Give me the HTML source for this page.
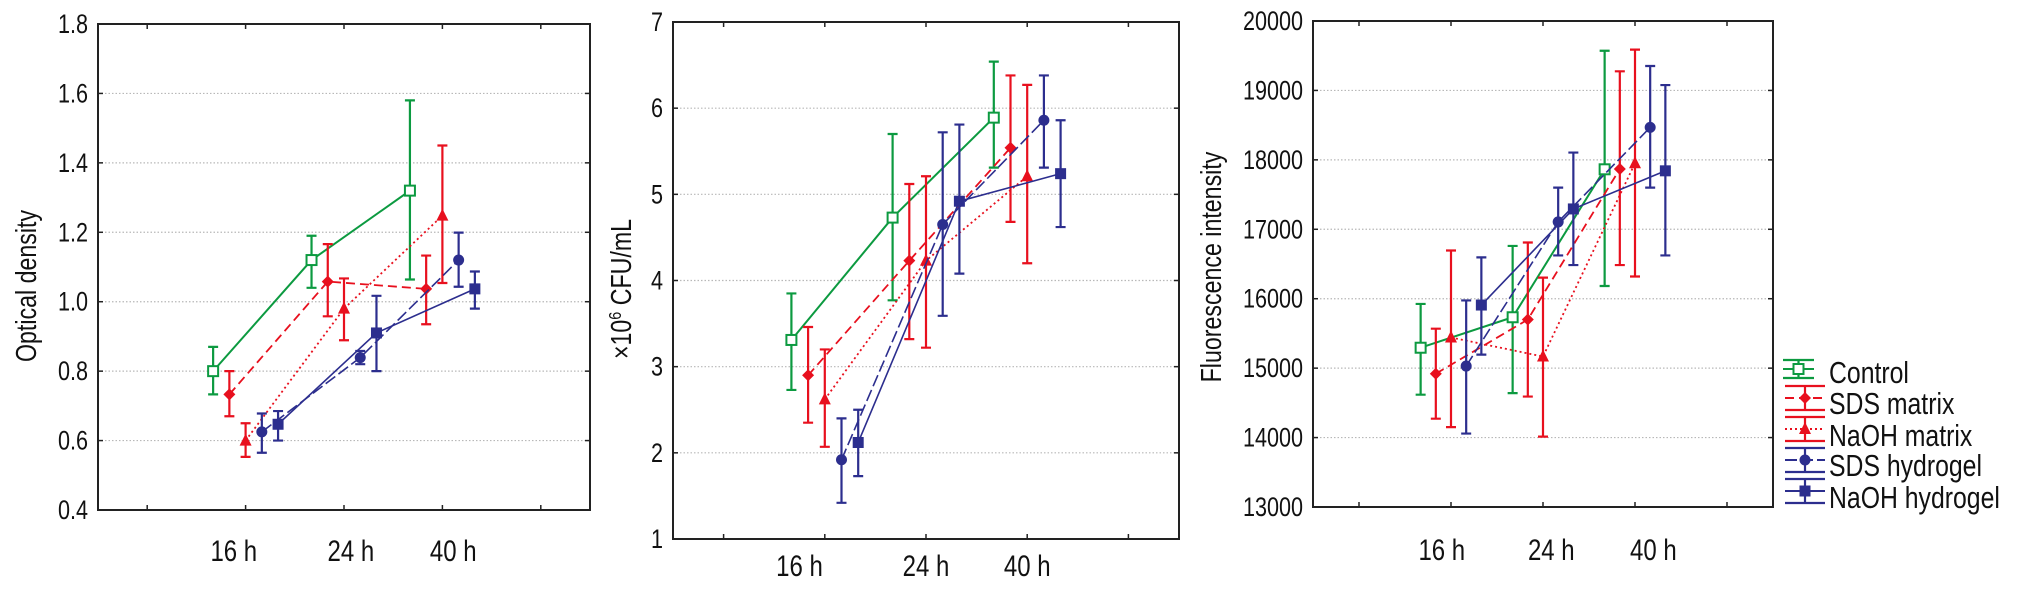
<!DOCTYPE html>
<html><head><meta charset="utf-8">
<style>
html,body{margin:0;padding:0;background:#fff;}
svg{display:block;}
text{font-family:"Liberation Sans",sans-serif;fill:#111;}
</style></head>
<body>
<svg id="chart" width="2038" height="597" viewBox="0 0 2038 597" xmlns="http://www.w3.org/2000/svg"></svg>
<script>
// ---- data ----
const timeLabels = ["16 h", "24 h", "40 h"];
const seriesNames = ["Control", "SDS matrix", "NaOH matrix", "SDS hydrogel", "NaOH hydrogel"];

// Optical density
const odTicks = [0.4, 0.6, 0.8, 1.0, 1.2, 1.4, 1.6, 1.8];
const odControl = [0.80, 1.12, 1.32];
const odControlLo = [0.733, 1.04, 1.064];
const odControlHi = [0.87, 1.19, 1.58];
const odSdsMatrix = [0.733, 1.058, 1.037];
const odSdsMatrixLo = [0.67, 0.958, 0.935];
const odSdsMatrixHi = [0.80, 1.166, 1.133];
const odNaohMatrix = [0.60, 0.98, 1.248];
const odNaohMatrixLo = [0.553, 0.889, 1.054];
const odNaohMatrixHi = [0.65, 1.067, 1.45];
const odSdsHydrogel = [0.625, 0.839, 1.12];
const odSdsHydrogelLo = [0.565, 0.82, 1.043];
const odSdsHydrogelHi = [0.678, 0.858, 1.199];
const odNaohHydrogel = [0.647, 0.91, 1.037];
const odNaohHydrogelLo = [0.60, 0.80, 0.98];
const odNaohHydrogelHi = [0.685, 1.017, 1.087];

// CFU
const cfuTicks = [1, 2, 3, 4, 5, 6, 7];
const cfuControl = [3.31, 4.73, 5.89];
const cfuControlLo = [2.73, 3.77, 5.31];
const cfuControlHi = [3.85, 5.70, 6.54];
const cfuSdsMatrix = [2.90, 4.23, 5.54];
const cfuSdsMatrixLo = [2.35, 3.32, 4.68];
const cfuSdsMatrixHi = [3.46, 5.12, 6.38];
const cfuNaohMatrix = [2.62, 4.23, 5.21];
const cfuNaohMatrixLo = [2.07, 3.22, 4.20];
const cfuNaohMatrixHi = [3.20, 5.21, 6.27];
const cfuSdsHydrogel = [1.92, 4.65, 5.86];
const cfuSdsHydrogelLo = [1.42, 3.59, 5.31];
const cfuSdsHydrogelHi = [2.40, 5.72, 6.38];
const cfuNaohHydrogel = [2.12, 4.92, 5.24];
const cfuNaohHydrogelLo = [1.73, 4.08, 4.62];
const cfuNaohHydrogelHi = [2.50, 5.81, 5.86];

// Fluorescence
const flTicks = [13000, 14000, 15000, 16000, 17000, 18000, 19000, 20000];
const flControl = [15294, 15733, 17864];
const flControlLo = [14618, 14640, 16183];
const flControlHi = [15925, 16760, 19572];
const flSdsMatrix = [14920, 15700, 17869];
const flSdsMatrixLo = [14272, 14591, 16485];
const flSdsMatrixHi = [15568, 16810, 19275];
const flNaohMatrix = [15442, 15167, 17952];
const flNaohMatrixLo = [14151, 14014, 16320];
const flNaohMatrixHi = [16694, 16304, 19588];
const flSdsHydrogel = [15030, 17106, 18468];
const flSdsHydrogelLo = [14058, 16623, 17600];
const flSdsHydrogelHi = [15975, 17600, 19352];
const flNaohHydrogel = [15909, 17293, 17842];
const flNaohHydrogelLo = [15195, 16485, 16623];
const flNaohHydrogelHi = [16595, 18105, 19077];

// ---- styles / layout ----
const GREEN = "#0c9a40", RED = "#e8101e", BLUE = "#2c2e8e";
const SX = 0.8;
const styles = [
  {color: GREEN, dash: "", marker: "opensquare", w: 2},
  {color: RED, dash: "9 5", marker: "diamond", w: 1.8},
  {color: RED, dash: "2 3", marker: "triangle", w: 1.8},
  {color: BLUE, dash: "12 4", marker: "circle", w: 1.6},
  {color: BLUE, dash: "", marker: "square", w: 1.6}
];
const NS = "http://www.w3.org/2000/svg";
const svg = document.getElementById("chart");
function mk(tag, attrs, parent) {
  const e = document.createElementNS(NS, tag);
  for (const k in attrs) e.setAttribute(k, attrs[k]);
  (parent || svg).appendChild(e);
  return e;
}
function txt(parent, x, y, size, anchor, rot) {
  return mk("text", {x: 0, y: 0, "text-anchor": anchor, "font-size": size,
    transform: `translate(${x},${y})` + (rot ? " rotate(-90)" : "") + ` scale(${SX},1)`}, parent);
}

function drawMarker(g, type, cx, cy, color) {
  let m;
  if (type === "opensquare") m = mk("rect", {x: cx-5, y: cy-5, width: 10, height: 10, fill: "#fff", stroke: color, "stroke-width": 2}, g);
  else if (type === "square") m = mk("rect", {x: cx-5.5, y: cy-5.5, width: 11, height: 11, fill: color}, g);
  else if (type === "circle") m = mk("circle", {cx: cx, cy: cy, r: 5.5, fill: color}, g);
  else if (type === "diamond") m = mk("polygon", {points: `${cx},${cy-6} ${cx+6},${cy} ${cx},${cy+6} ${cx-6},${cy}`, fill: color}, g);
  else m = mk("polygon", {points: `${cx},${cy-7} ${cx+6},${cy+5} ${cx-6},${cy+5}`, fill: color}, g);
  return m;
}

function panel(cfg) {
  const g = mk("g", {});
  
  
  const {x0, x1, y0, y1, ymin, ymax} = cfg;
  const xs = v => x0 + v / 5 * (x1 - x0);
  const ys = v => y1 - (v - ymin) / (ymax - ymin) * (y1 - y0);
  cfg.ticks.forEach((t, i) => {
    const y = ys(t);
    if (i > 0 && i < cfg.ticks.length - 1) {
      const gl = mk("line", {x1: x0, x2: x1, y1: y, y2: y, stroke: "#b8b8b8", "stroke-width": 1.2, "stroke-dasharray": "1.5 2"}, g);
      
      
    }
    mk("line", {x1: x0, x2: x0 + 5, y1: y, y2: y, stroke: "#222", "stroke-width": 1.5}, g);
    mk("line", {x1: x1, x2: x1 - 5, y1: y, y2: y, stroke: "#222", "stroke-width": 1.5}, g);
    const tl = txt(g, x0 - 10, y + 9, 27, "end");
    tl.textContent = cfg.fmt(t);
    
    
  });
  for (let i = 0; i < 5; i++) {
    const x = xs(i + 0.5);
    mk("line", {x1: x, x2: x, y1: y1, y2: y1 - 5, stroke: "#222", "stroke-width": 1.5}, g);
    mk("line", {x1: x, x2: x, y1: y0, y2: y0 + 5, stroke: "#222", "stroke-width": 1.5}, g);
  }
  const fr = mk("rect", {x: x0, y: y0, width: x1 - x0, height: y1 - y0, fill: "none", stroke: "#222", "stroke-width": 2}, g);
  
  
  timeLabels.forEach((lab, i) => {
    const t = txt(g, xs(cfg.labelPos[i]), cfg.labelY, 30, "middle");
    t.textContent = lab;
    
    
  });
  const at = txt(g, cfg.titleX, cfg.titleY, 29, "middle", true);
  at.innerHTML = cfg.title;
  
  
  cfg.series.forEach((s, si) => {
    const st = styles[si];
    const sg = mk("g", {}, g);
    
    
    const px = s.mean.map((v, i) => xs(i + 1.5 + (si - 2) * 0.165));
    const pts = s.mean.map((v, i) => `${px[i]},${ys(v)}`).join(" ");
    const ln = mk("polyline", {points: pts, fill: "none", stroke: st.color, "stroke-width": st.w, "stroke-dasharray": st.dash}, sg);
    
    
    s.mean.forEach((v, i) => {
      const x = px[i], ylo = ys(s.lo[i]), yhi = ys(s.hi[i]);
      const eb = mk("path", {d: `M${x},${ylo}V${yhi}M${x-5},${ylo}H${x+5}M${x-5},${yhi}H${x+5}`, stroke: st.color, "stroke-width": 2.2, fill: "none"}, sg);
      
      
      const mkr = drawMarker(sg, st.marker, x, ys(v), st.color);
      
      
    });
  });
}

panel({name: "optical-density-panel", x0: 98, x1: 590, y0: 24, y1: 510, ymin: 0.4, ymax: 1.8, ticks: odTicks,
  fmt: v => v.toFixed(1), labelPos: [1.38, 2.57, 3.61], labelY: 561, title: "Optical density", titleX: 36, titleY: 286,
  series: [
    {mean: odControl, lo: odControlLo, hi: odControlHi},
    {mean: odSdsMatrix, lo: odSdsMatrixLo, hi: odSdsMatrixHi},
    {mean: odNaohMatrix, lo: odNaohMatrixLo, hi: odNaohMatrixHi},
    {mean: odSdsHydrogel, lo: odSdsHydrogelLo, hi: odSdsHydrogelHi},
    {mean: odNaohHydrogel, lo: odNaohHydrogelLo, hi: odNaohHydrogelHi}]});

panel({name: "cfu-panel", x0: 673, x1: 1179, y0: 22, y1: 539, ymin: 1, ymax: 7, ticks: cfuTicks,
  fmt: v => String(v), labelPos: [1.25, 2.5, 3.5], labelY: 576, title: "×10<tspan dy='-10' font-size='18'>6</tspan><tspan dy='10'> CFU/mL</tspan>", titleX: 631, titleY: 289,
  series: [
    {mean: cfuControl, lo: cfuControlLo, hi: cfuControlHi},
    {mean: cfuSdsMatrix, lo: cfuSdsMatrixLo, hi: cfuSdsMatrixHi},
    {mean: cfuNaohMatrix, lo: cfuNaohMatrixLo, hi: cfuNaohMatrixHi},
    {mean: cfuSdsHydrogel, lo: cfuSdsHydrogelLo, hi: cfuSdsHydrogelHi},
    {mean: cfuNaohHydrogel, lo: cfuNaohHydrogelLo, hi: cfuNaohHydrogelHi}]});

panel({name: "fluorescence-panel", x0: 1313, x1: 1773, y0: 21, y1: 507, ymin: 13000, ymax: 20000, ticks: flTicks,
  fmt: v => String(v), labelPos: [1.40, 2.59, 3.70], labelY: 560, title: "Fluorescence intensity", titleX: 1221, titleY: 267,
  series: [
    {mean: flControl, lo: flControlLo, hi: flControlHi},
    {mean: flSdsMatrix, lo: flSdsMatrixLo, hi: flSdsMatrixHi},
    {mean: flNaohMatrix, lo: flNaohMatrixLo, hi: flNaohMatrixHi},
    {mean: flSdsHydrogel, lo: flSdsHydrogelLo, hi: flSdsHydrogelHi},
    {mean: flNaohHydrogel, lo: flNaohHydrogelLo, hi: flNaohHydrogelHi}]});

// legend
const lg = mk("g", {});


const legY = [369, 398, 429, 460, 491];
const legTextY = [372, 403, 435, 465, 497];
seriesNames.forEach((n, i) => {
  const st = styles[i];
  const eg = mk("g", {}, lg);
  
  
  const cy = legY[i];
  const xa = i === 0 ? 1783 : 1785, xb = i === 0 ? 1814 : 1825, cx = (xa + xb) / 2, h = i === 0 ? 9 : 12;
  mk("path", {d: `M${xa},${cy-h}H${xb}M${xa},${cy+h}H${xb}M${cx},${cy-h}V${cy+h}`, stroke: st.color, "stroke-width": 2.2, fill: "none"}, eg);
  mk("line", {x1: xa, x2: xb, y1: cy, y2: cy, stroke: st.color, "stroke-width": 2, "stroke-dasharray": st.dash}, eg);
  drawMarker(eg, st.marker, cx, cy, st.color);
  const t = txt(eg, 1829, legTextY[i] + 11, 31, "start");
  t.textContent = n;
});
</script>
</body></html>
